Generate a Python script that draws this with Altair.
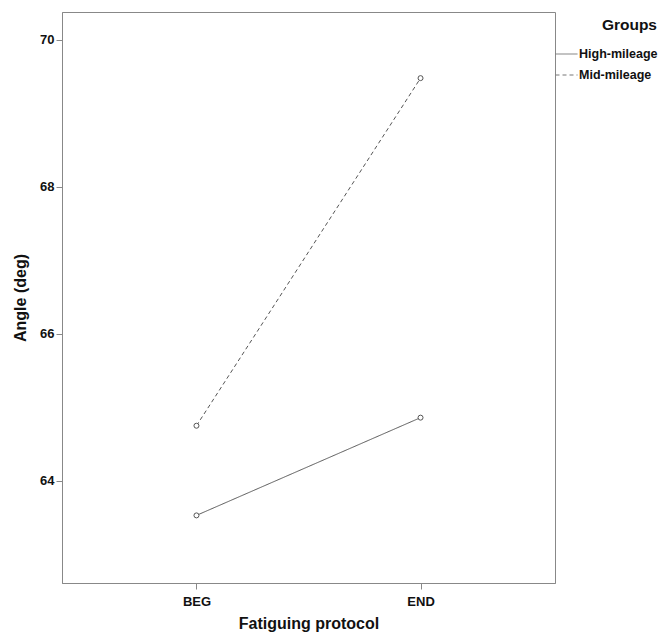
import altair as alt
import pandas as pd

protocol = ["BEG", "END", "BEG", "END"]
groups = ["High-mileage", "High-mileage", "Mid-mileage", "Mid-mileage"]
angles = [63.53, 64.86, 64.75, 69.48]

df = pd.DataFrame({"Protocol": protocol, "Group": groups, "Angle": angles})

FONT = "Liberation Sans"
LINE = "#555555"

x = alt.X("Protocol:N", title="Fatiguing protocol",
          scale=alt.Scale(type="point", padding=0.6, domain=["BEG", "END"]),
          axis=alt.Axis(labelAngle=0, tickSize=6, labelPadding=6, titlePadding=7,
                        labelFontSize=13, labelFontWeight="bold", titleFontSize=16,
                        titleFontWeight="bold", domainColor="#888888", tickColor="#888888",
                        labelColor="#111111", titleColor="#111111", grid=False))
y = alt.Y("Angle:Q", title="Angle (deg)",
          scale=alt.Scale(domain=[62.61, 70.38], nice=False, zero=False),
          axis=alt.Axis(values=[64, 66, 68, 70], tickSize=6, labelPadding=2, titlePadding=11,
                        labelFontSize=13, labelFontWeight="bold", titleFontSize=16,
                        titleFontWeight="bold", domainColor="#888888", tickColor="#888888",
                        labelColor="#111111", titleColor="#111111", grid=False))

dash = alt.StrokeDash("Group:N",
                      scale=alt.Scale(domain=["High-mileage", "Mid-mileage"],
                                      range=[[1, 0], [4, 3]]),
                      legend=alt.Legend(title="Groups", orient="none", legendX=493, legendY=6,
                                        symbolType="stroke", symbolSize=484,
                                        symbolStrokeColor="#777777", symbolStrokeWidth=1,
                                        labelOffset=1, labelFontSize=12.5, labelFontWeight="bold",
                                        titleFontSize=15.5, titleFontWeight="bold",
                                        titleAnchor="end", titlePadding=9, rowPadding=3,
                                        labelColor="#111111", titleColor="#111111"))

lines = alt.Chart(df).mark_line(color=LINE, strokeWidth=1).encode(x=x, y=y, strokeDash=dash)
points = alt.Chart(df).mark_point(shape="circle", filled=False, fill="white", color=LINE,
                                  size=25, strokeWidth=1, opacity=1).encode(
    x=x, y=y, detail="Group:N")

chart = alt.layer(lines, points).properties(
    width=493, height=571,
    autosize=alt.AutoSizeParams(type="none"),
    padding={"left": 54, "top": 4, "right": 106, "bottom": 70},
).configure(font=FONT).configure_view(stroke="#888888", strokeWidth=1)

chart.save("out.html", embed_options={"renderer": "svg", "actions": False})
